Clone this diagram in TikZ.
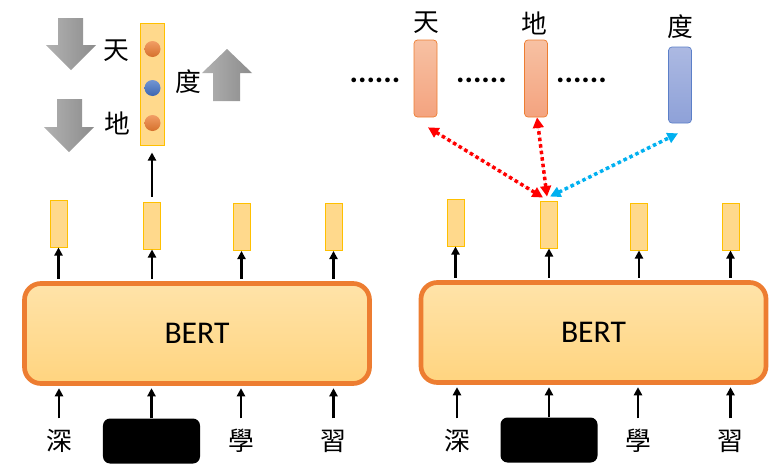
\documentclass[tikz,border=0pt]{standalone}
\usepackage{fontspec}
\usepackage{xcolor}
\usepackage{tikz}
\usetikzlibrary{arrows.meta,positioning}
\setmainfont{Carlito}
\newfontfamily\cjk{Noto Sans CJK TC}
\definecolor{bertedge}{HTML}{ED7D31}
\definecolor{berttop}{HTML}{FFE3A9}
\definecolor{bertbot}{HTML}{FFD47F}
\definecolor{vecedge}{HTML}{FFC000}
\definecolor{vecfill}{HTML}{FFD98C}
\definecolor{keytop}{HTML}{F7C1A3}
\definecolor{keybot}{HTML}{F4A37F}
\definecolor{bluetop}{HTML}{ACB9E2}
\definecolor{bluebot}{HTML}{8EA1D8}
\definecolor{blueedge}{HTML}{5B7FC8}
\definecolor{graylight}{HTML}{B2B2B2}
\definecolor{graydark}{HTML}{8C8C8C}
\definecolor{dotorange}{HTML}{ED7D31}
\definecolor{dotblue}{HTML}{4472C4}
\definecolor{linkred}{HTML}{FF0000}
\definecolor{linkcyan}{HTML}{00B0F0}
\tikzset{
  bertbox/.style={draw=bertedge, line width=4pt, rounded corners=14pt, top color=berttop, bottom color=bertbot,
    minimum width=10.35cm, minimum height=3cm, font=\fontsize{27}{27}\selectfont},
  vecbox/.style={draw=vecedge, line width=0.8pt, fill=vecfill, minimum width=0.51cm, minimum height=1.41cm, inner sep=0pt},
  tallbox/.style={vecbox, minimum width=0.72cm, minimum height=3.66cm},
  keybox/.style={draw=bertedge, line width=0.6pt, rounded corners=3pt, top color=keytop, bottom color=keybot,
    minimum width=0.69cm, minimum height=2.31cm, inner sep=0pt},
  bluebox/.style={keybox, draw=blueedge, top color=bluetop, bottom color=bluebot, minimum height=2.28cm},
  maskbox/.style={fill=black, rounded corners=6pt, minimum width=2.91cm, minimum height=1.35cm, inner sep=0pt},
  word/.style={font=\cjk\fontsize{22}{22}\selectfont, minimum height=1.35cm, inner sep=0pt},
  label/.style={font=\cjk\fontsize{22}{22}\selectfont, inner sep=0pt},
  dots/.style={font=\bfseries\fontsize{27}{27}\selectfont, inner sep=0pt},
  ball/.style={circle, minimum size=0.48cm, inner sep=0pt},
  arr/.style={-{Triangle[length=7pt,width=7pt]}, line width=2pt, draw=black},
  link/.style={{Triangle[length=9pt,width=9pt]}-{Triangle[length=9pt,width=9pt]}, line width=3pt,
    dash pattern=on 3pt off 2.6pt},
  grayarrow/.style={left color=graylight, right color=graydark, draw=none}
}
\begin{document}
\begin{tikzpicture}[x=0.03cm, y=-0.03cm]
  \useasboundingbox (0,0) rectangle (783,472);

  % left: masked token
  \node[bertbox] (bl) at (197,333.5) {BERT};
  \node[word] (w1) at (59,441) {深};
  \node[maskbox] (m1) at (151.5,441) {};
  \node[word] (w3) at (241,441) {學};
  \node[word] (w4) at (333.5,441) {習};

  \node[vecbox] (o1) at (58.5,223.5) {};
  \node[vecbox] (o2) at (152,225.5) {};
  \node[vecbox] (o3) at (241.5,227) {};
  \node[vecbox] (o4) at (333.5,227) {};

  \draw[arr, shorten >=2pt] (w1.north) -- (w1.north |- bl.south);
  \draw[arr, shorten >=2pt] (m1.north) -- (m1.north |- bl.south);
  \draw[arr, shorten >=2pt] (w3.north) -- (w3.north |- bl.south);
  \draw[arr, shorten >=2pt] (w4.north) -- (w4.north |- bl.south);

  \draw[arr, shorten <=2pt] (bl.north -| o1.south) -- (o1.south);
  \draw[arr, shorten <=2pt] (bl.north -| o2.south) -- (o2.south);
  \draw[arr, shorten <=2pt] (bl.north -| o3.south) -- (o3.south);
  \draw[arr, shorten <=2pt] (bl.north -| o4.south) -- (o4.south);

  \node[tallbox] (tall) at (152,84) {};
  \node[ball, top color=dotorange!75, bottom color=dotorange!90!black] (c1) at (152.5,49) {};
  \node[ball, top color=dotblue!75, bottom color=dotblue!90!black] (c2) at (152.5,88) {};
  \node[ball, top color=dotorange!75, bottom color=dotorange!90!black] (c3) at (152.5,123) {};
  \draw[arr, shorten <=4pt, shorten >=6pt] (o2.north) -- (tall.south);

  \node[label] (t1) at (116,51) {天};
  \node[label] (t2) at (117,123) {地};
  \node[label] (t3) at (188,82) {度};

  \shade[grayarrow] (58,18) -- (83,18) -- (83,45) -- (96,45) -- (71,70) -- (46,45) -- (58,45) -- cycle;
  \shade[grayarrow] (57,99) -- (82,99) -- (82,127) -- (94,127) -- (69,152) -- (44,127) -- (57,127) -- cycle;
  \shade[grayarrow] (213,101) -- (240,101) -- (240,73) -- (252,73) -- (227,49) -- (202,73) -- (213,73) -- cycle;

  % right: compare with word embeddings
  \node[bertbox] (br) at (593.5,332.5) {BERT};
  \node[word] (w5) at (457,441) {深};
  \node[maskbox] (m2) at (549,440) {};
  \node[word] (w7) at (638,441) {學};
  \node[word] (w8) at (730.5,441) {習};

  \node[vecbox] (o5) at (455.5,222.5) {};
  \node[vecbox] (o6) at (549,224.5) {};
  \node[vecbox] (o7) at (639,226.5) {};
  \node[vecbox] (o8) at (730.5,226.5) {};

  \draw[arr, shorten >=2pt] (w5.north) -- (w5.north |- br.south);
  \draw[arr, shorten >=2pt] (m2.north) -- (m2.north |- br.south);
  \draw[arr, shorten >=2pt] (w7.north) -- (w7.north |- br.south);
  \draw[arr, shorten >=2pt] (w8.north) -- (w8.north |- br.south);

  \draw[arr, shorten <=2pt] (br.north -| o5.south) -- (o5.south);
  \draw[arr, shorten <=2pt] (br.north -| o6.south) -- (o6.south);
  \draw[arr, shorten <=2pt] (br.north -| o7.south) -- (o7.south);
  \draw[arr, shorten <=2pt] (br.north -| o8.south) -- (o8.south);

  \node[keybox] (k1) at (425.5,78.5) {};
  \node[keybox] (k2) at (536,78.5) {};
  \node[bluebox] (k3) at (680,85) {};
  \node[label] (l1) at (426,23) {天};
  \node[label] (l2) at (534,23) {地};
  \node[label] (l3) at (680,27) {度};

  \node[dots] (d1) at (375,80) {......};
  \node[dots] (d2) at (481.5,80) {......};
  \node[dots] (d3) at (581.5,80) {......};

  \draw[link, draw=linkred, fill=linkred] ([xshift=-0.18cm,yshift=0.09cm]o6.north) -- ([xshift=0.075cm,yshift=-0.3cm]k1.south);
  \draw[link, draw=linkred, fill=linkred] ([xshift=-0.06cm,yshift=0.12cm]o6.north) -- ([xshift=0.03cm]k2.south);
  \draw[link, draw=linkcyan, fill=linkcyan] ([xshift=0.03cm,yshift=0.12cm]o6.north) -- ([xshift=-0.06cm,yshift=-0.3cm]k3.south);
\end{tikzpicture}
\end{document}
